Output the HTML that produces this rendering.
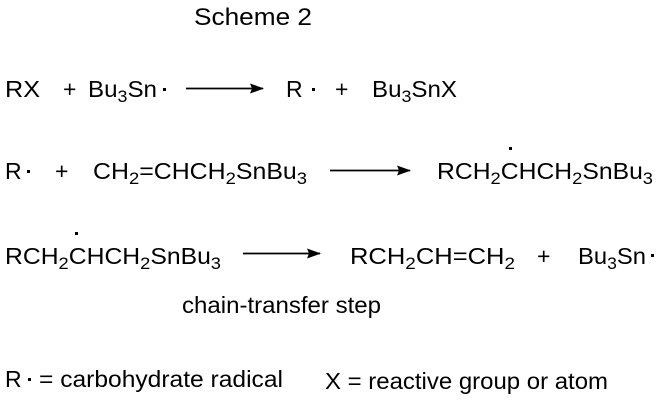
<!DOCTYPE html>
<html><head><meta charset="utf-8"><style>
html,body{margin:0;padding:0;background:#fff;width:660px;height:402px;overflow:hidden}
text{font-family:"Liberation Sans",Arial,sans-serif;fill:#000;font-size:23px}
text.t{font-size:24px}
tspan.s{font-size:17px}
</style></head><body>
<svg width="660" height="402" viewBox="0 0 660 402" xmlns="http://www.w3.org/2000/svg">
<defs><marker id="a" markerWidth="14" markerHeight="10" refX="13" refY="5" orient="auto" markerUnits="userSpaceOnUse"><path d="M0,0 L14,5 L0,10 L2,5z" fill="#000"/></marker></defs>
<text class="t" x="194" y="25" textLength="118" lengthAdjust="spacingAndGlyphs">Scheme 2</text>
<!-- row1 -->
<text x="5" y="97" textLength="35" lengthAdjust="spacingAndGlyphs">RX</text>
<text x="63" y="97">+</text>
<text x="88" y="97" textLength="69" lengthAdjust="spacingAndGlyphs">Bu<tspan class="s" dy="5">3</tspan><tspan dy="-5">Sn</tspan></text>
<rect x="163" y="88" width="3" height="3"/>
<line x1="186" y1="88.5" x2="263" y2="88.5" stroke="#000" stroke-width="1.8" marker-end="url(#a)"/>
<text x="286" y="97">R</text>
<rect x="312" y="88" width="3" height="3"/>
<text x="335" y="97">+</text>
<text x="372" y="97" textLength="85" lengthAdjust="spacingAndGlyphs">Bu<tspan class="s" dy="5">3</tspan><tspan dy="-5">SnX</tspan></text>
<!-- row2 -->
<text x="5" y="179">R</text>
<rect x="27" y="170" width="3" height="3"/>
<text x="55" y="179">+</text>
<text x="93" y="179" textLength="214" lengthAdjust="spacingAndGlyphs">CH<tspan class="s" dy="5">2</tspan><tspan dy="-5">=CHCH</tspan><tspan class="s" dy="5">2</tspan><tspan dy="-5">SnBu</tspan><tspan class="s" dy="5">3</tspan></text>
<line x1="330" y1="170.5" x2="410" y2="170.5" stroke="#000" stroke-width="1.8" marker-end="url(#a)"/>
<text x="437" y="179" textLength="216" lengthAdjust="spacingAndGlyphs">RCH<tspan class="s" dy="5">2</tspan><tspan dy="-5">CHCH</tspan><tspan class="s" dy="5">2</tspan><tspan dy="-5">SnBu</tspan><tspan class="s" dy="5">3</tspan></text>
<rect x="509" y="147" width="3" height="3"/>
<!-- row3 -->
<text x="5" y="264" textLength="216" lengthAdjust="spacingAndGlyphs">RCH<tspan class="s" dy="5">2</tspan><tspan dy="-5">CHCH</tspan><tspan class="s" dy="5">2</tspan><tspan dy="-5">SnBu</tspan><tspan class="s" dy="5">3</tspan></text>
<rect x="75" y="232" width="3" height="3"/>
<line x1="243" y1="253.5" x2="320" y2="253.5" stroke="#000" stroke-width="1.8" marker-end="url(#a)"/>
<text x="350" y="264" textLength="165" lengthAdjust="spacingAndGlyphs">RCH<tspan class="s" dy="5">2</tspan><tspan dy="-5">CH=CH</tspan><tspan class="s" dy="5">2</tspan></text>
<text x="537" y="264">+</text>
<text x="578" y="264" textLength="68" lengthAdjust="spacingAndGlyphs">Bu<tspan class="s" dy="5">3</tspan><tspan dy="-5">Sn</tspan></text>
<rect x="651" y="254" width="3" height="3"/>
<text x="182" y="313" textLength="199" lengthAdjust="spacingAndGlyphs">chain-transfer step</text>
<!-- defs -->
<text x="5" y="387">R</text>
<rect x="28" y="378" width="3" height="3"/>
<text x="39" y="387" textLength="244" lengthAdjust="spacingAndGlyphs">= carbohydrate radical</text>
<text x="325" y="389" textLength="283" lengthAdjust="spacingAndGlyphs">X = reactive group or atom</text>
</svg>
</body></html>
